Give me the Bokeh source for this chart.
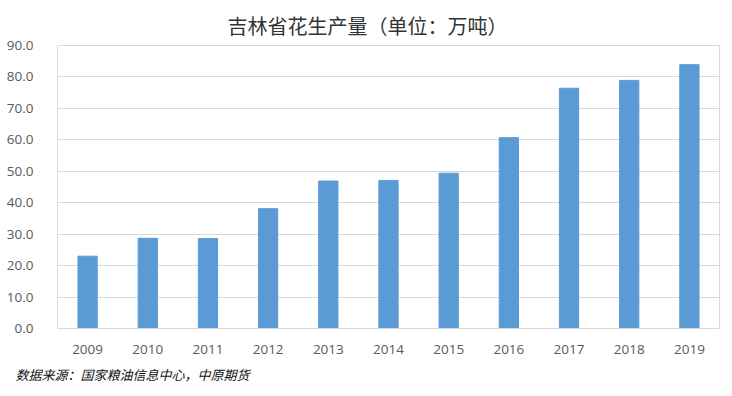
from bokeh.plotting import figure
from bokeh.models import Range1d, FixedTicker, NumeralTickFormatter, Title, ColumnDataSource
from bokeh.embed import file_html
from bokeh.resources import INLINE

years = ["2009", "2010", "2011", "2012", "2013", "2014", "2015", "2016", "2017", "2018", "2019"]
output = [23.0, 28.7, 28.6, 38.1, 46.9, 47.1, 49.4, 60.7, 76.4, 78.9, 83.9]
y_ticks = [0, 10, 20, 30, 40, 50, 60, 70, 80, 90]
title_text = "吉林省花生产量（单位：万吨）"
source_text = "数据来源：国家粮油信息中心，中原期货"

src = ColumnDataSource(data=dict(year=years, value=output))

p = figure(x_range=years, y_range=Range1d(0, 90), width=732, height=396,
           output_backend="svg", toolbar_location=None,
           min_border_left=57, min_border_right=13, min_border_top=45, min_border_bottom=68)
p.vbar(x="year", top="value", width=0.32, source=src, fill_color="#5B9BD5", line_color="#5B9BD5")

p.outline_line_color = "#D9D9D9"
p.xgrid.grid_line_color = None
p.ygrid.grid_line_color = "#D9D9D9"
p.ygrid.ticker = FixedTicker(ticks=y_ticks)

p.yaxis.ticker = FixedTicker(ticks=y_ticks)
p.yaxis.formatter = NumeralTickFormatter(format="0.0")
p.yaxis.axis_line_color = None
p.yaxis.major_tick_line_color = None
p.yaxis.minor_tick_line_color = None
p.yaxis.major_label_standoff = 18
p.xaxis.axis_line_color = "#D9D9D9"
p.xaxis.major_tick_line_color = None
p.xaxis.major_label_standoff = 10
for ax in (p.xaxis, p.yaxis):
    ax.major_label_text_font = "Open Sans"
    ax.major_label_text_font_size = "13.5px"
    ax.major_label_text_color = "#595959"

p.add_layout(Title(text=title_text, align="left", offset=170, standoff=12,
                   text_font="Noto Sans CJK SC", text_font_size="20px",
                   text_font_style="normal", text_color="#333333"), "above")
p.add_layout(Title(text=source_text, align="left", offset=-42, standoff=12,
                   text_font="Noto Sans CJK SC", text_font_size="13px",
                   text_font_style="italic", text_color="#111111"), "below")

open("out.html", "w").write(file_html(p, INLINE))
